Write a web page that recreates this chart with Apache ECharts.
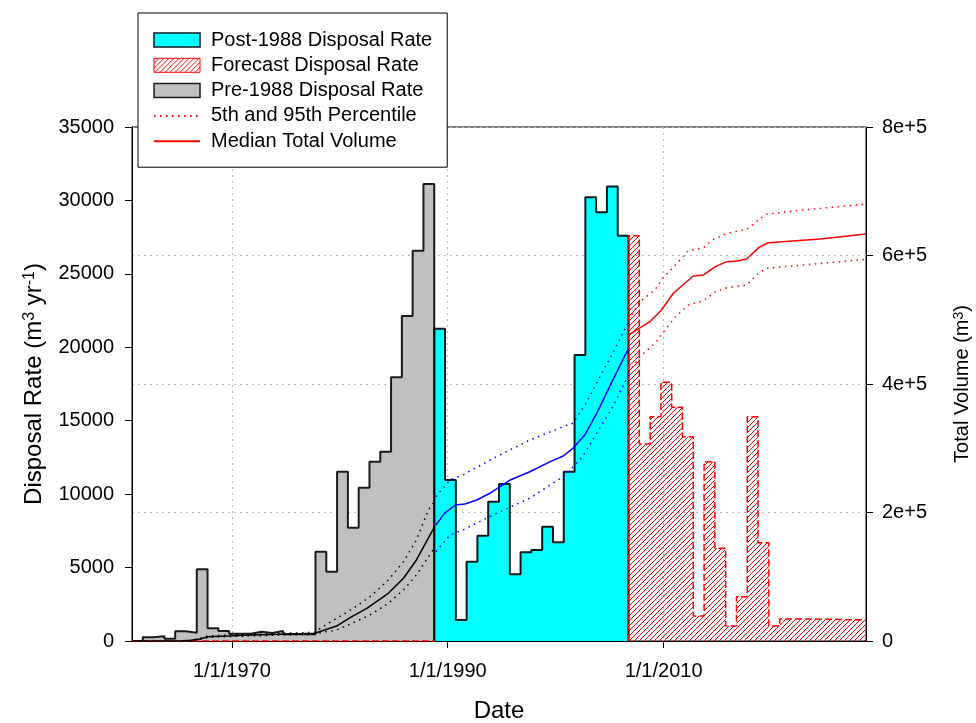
<!DOCTYPE html>
<html><head><meta charset="utf-8">
<script src="https://cdn.jsdelivr.net/npm/echarts@6/dist/echarts.min.js"></script>
<style>html,body{margin:0;padding:0;background:#fff}#c{width:976px;height:723px}</style>
</head><body><div id="c"></div>
<script>
const FONT = '"Liberation Sans", Arial, Helvetica, sans-serif';

// ---- disposal rates by fiscal year (FY starts Oct 1 of the listed year) ----
const preFY   = [1960,1961,1962,1963,1964,1965,1966,1967,1968,1969,1970,1971,1972,1973,1974,1975,1976,1977,1978,1979,1980,1981,1982,1983,1984,1985,1986,1987];
const preRate = [0,250,320,150,660,565,4880,865,680,500,500,635,545,680,455,455,455,6080,4720,11530,7715,10440,12210,12890,17955,22130,26575,31120];
const postFY   = [1988,1989,1990,1991,1992,1993,1994,1995,1996,1997,1998,1999,2000,2001,2002,2003,2004,2005];
const postRate = [21265,10960,1430,5400,7170,9485,10690,4540,6040,6200,7785,6720,11530,19475,30210,29190,30940,27600];
const fcFY   = [2006,2007,2008,2009,2010,2011,2012,2013,2014,2015,2016,2017,2018,2019,2020,2021,2022,2023,2024,2025,2026,2027];
const fcRate = [27600,13410,15275,17615,15910,13910,1700,12210,6310,1020,3020,15275,6695,1020,1500,1500,1500,1480,1480,1450,1450,1450];
const fcZero = [[1960.75,0],[1988.75,0]];

// ---- total volume curves [decimal year, m3] ----
const preMedian = [[1960.75,0],[1965.2,0],[1966.2,1000],[1967.0,3000],[1967.8,6700],[1970.0,8000],[1972.0,9400],[1974.5,10500],[1977.7,12000],[1979.7,23300],[1981.0,36900],[1982.5,50900],[1984.5,74200],[1985.9,97600],[1987.1,126100],[1988.75,177000]];
const preUpper  = [[1966.0,500],[1967.0,3500],[1967.8,8000],[1970.0,9500],[1974.0,11500],[1977.7,13500],[1978.2,19800],[1979.7,35300],[1981.25,50900],[1982.8,68900],[1984.5,94900],[1985.9,123400],[1987.1,157200],[1988.2,203900],[1988.65,214300]];
const preLower  = [[1966.5,300],[1967.8,5500],[1970.0,7000],[1974.0,9000],[1977.7,10500],[1978.2,13000],[1979.7,17100],[1981.25,28500],[1982.8,40500],[1984.5,58700],[1985.9,79400],[1987.1,102700],[1988.65,142000]];
const postMedian = [[1988.9,180500],[1989.7,198700],[1990.7,211700],[1991.6,213200],[1992.7,219500],[1993.9,229900],[1995.8,250600],[1997.6,263500],[1999.5,279100],[2000.7,287900],[2001.6,299900],[2002.7,320600],[2003.8,354400],[2005.0,395800],[2006.75,455600]];
const postUpper  = [[1988.9,224600],[1990.2,250600],[1991.4,258400],[1994.5,286800],[1997.6,312800],[2000.7,333500],[2001.6,338800],[2002.8,369900],[2004.1,411300],[2005.6,458000],[2006.75,497000]];
const postLower  = [[1988.9,139000],[1990.2,165000],[1991.4,172800],[1994.5,198700],[1997.6,222100],[2000.7,255700],[2002.5,286800],[2003.8,323300],[2005.3,364700],[2006.75,414000]];
const fcMedian = [[2006.75,476200],[2008.73,497000],[2009.8,515200],[2010.9,541200],[2012.75,568100],[2013.7,569700],[2014.8,582600],[2015.85,590400],[2016.8,591400],[2017.7,594600],[2018.8,612200],[2019.7,619900],[2024.5,625700],[2028.75,633500]];
const fcUpper  = [[2006.75,500000],[2007.8,528100],[2009.2,546300],[2009.9,564500],[2011.1,585200],[2012.3,607500],[2013.7,612200],[2014.5,624100],[2015.9,634500],[2017.7,640800],[2018.6,652600],[2019.5,664100],[2022.9,670800],[2028.75,680100]];
const fcLower  = [[2006.75,418000],[2007.8,442500],[2009.2,463300],[2009.9,478900],[2011.1,504700],[2012.3,522900],[2013.7,529600],[2014.8,543700],[2016.0,550500],[2017.7,554100],[2018.6,569700],[2019.5,580100],[2022.9,585200],[2028.75,594100]];

// ---- axes ----
const xMin = 1960.75, xMax = 2028.75;
const xTicks = [1970, 1990, 2010];
const rateMax = 35000, rateStep = 5000;
const volMax = 800000, volStep = 200000;

// FY start (Oct 1) as decimal year
const fyStart = y => y + 0.75;
function stepData(fy, vals, endX, dropToZero, startAtZero) {
  const d = [];
  if (startAtZero) d.push([fyStart(fy[0]), 0]);
  fy.forEach((y, i) => d.push([fyStart(y), vals[i]]));
  if (dropToZero) d.push([endX, 0]); else d.push([endX, vals[vals.length - 1]]);
  return d;
}

// hatch pattern
const hatch = document.createElement('canvas');
hatch.width = 5; hatch.height = 5;
(function(){
  const g = hatch.getContext('2d');
  g.strokeStyle = '#ff0000'; g.lineWidth = 1;
  g.beginPath();
  g.moveTo(-1, 6); g.lineTo(6, -1);
  g.moveTo(-1, 1); g.lineTo(1, -1);
  g.moveTo(4, 6); g.lineTo(6, 4);
  g.stroke();
})();
const hatchFill = { image: hatch, repeat: 'repeat' };

const dotted = [1.5, 4.5];
function volLine(name, data, color, dash) {
  return { name, type: 'line', yAxisIndex: 1, data, symbol: 'none', showSymbol: false,
    lineStyle: { color, width: 1.5, type: dash ? dotted : 'solid' }, itemStyle: { color }, z: 5, silent: true };
}
const noSymbol = { color: 'rgba(0,0,0,0)', borderWidth: 0, opacity: 0 };

const chart = echarts.init(document.getElementById('c'), null, { renderer: 'canvas' });
chart.setOption({
  animation: false,
  textStyle: { fontFamily: FONT, color: '#000' },
  grid: { left: 132, right: 110, top: 127, bottom: 82, containLabel: false, outerBoundsMode: 'none',
    show: true, borderColor: '#000', borderWidth: 1, backgroundColor: 'transparent' },
  legend: {
    left: 138, top: 13, orient: 'vertical',
    padding: [17, 15, 16, 15], itemGap: 5.3, itemWidth: 46, itemHeight: 14,
    backgroundColor: '#fff', borderColor: '#000', borderWidth: 1, borderRadius: 0,
    textStyle: { fontFamily: FONT, fontSize: 20, color: '#000', lineHeight: 20, padding: [0, 0, 0, 6] },
    selectedMode: false,
    data: [
      { name: 'Post-1988 Disposal Rate', icon: 'rect', itemStyle: { color: '#00ffff', borderColor: '#0a1a1a', borderWidth: 1.5 } },
      { name: 'Forecast Disposal Rate', icon: 'rect', itemStyle: { color: hatchFill, borderColor: '#ff0000', borderWidth: 1 } },
      { name: 'Pre-1988 Disposal Rate', icon: 'rect', itemStyle: { color: '#c0c0c0', borderColor: '#1a1a1a', borderWidth: 1.5 } },
      { name: '5th and 95th Percentile', itemStyle: noSymbol },
      { name: 'Median Total Volume', itemStyle: noSymbol }
    ]
  },
  xAxis: {
    type: 'value', min: xMin, max: xMax,
    name: 'Date', nameLocation: 'middle', nameGap: 58,
    nameTextStyle: { fontFamily: FONT, fontSize: 24, color: '#000' },
    axisLine: { show: true, lineStyle: { color: '#000', width: 1 } },
    axisTick: { show: true, inside: false, length: 7, customValues: xTicks, lineStyle: { color: '#000' } },
    axisLabel: { customValues: xTicks, fontFamily: FONT, fontSize: 20, color: '#000', margin: 20, formatter: v => '1/1/' + Math.round(v) },
    splitLine: { show: true, lineStyle: { color: '#b8b8b8', type: [2, 4], width: 1 } }
  },
  yAxis: [
    {
      type: 'value', min: 0, max: rateMax, interval: rateStep, position: 'left',
      name: 'Disposal Rate (m{sup|3} yr{sup|-1})', nameLocation: 'middle', nameGap: 86, nameRotate: 90,
      nameTextStyle: { fontFamily: FONT, fontSize: 24, color: '#000',
        rich: { sup: { fontFamily: FONT, fontSize: 16, color: '#000', verticalAlign: 'top', lineHeight: 14 } } },
      axisLine: { show: true, lineStyle: { color: '#000', width: 1 } },
      axisTick: { show: true, inside: false, length: 7, lineStyle: { color: '#000' } },
      axisLabel: { fontFamily: FONT, fontSize: 20, color: '#000', margin: 18, formatter: v => String(v) },
      splitLine: { show: false }
    },
    {
      type: 'value', min: 0, max: volMax, interval: volStep, position: 'right',
      name: 'Total Volume (m{sup|3})', nameLocation: 'middle', nameGap: 86, nameRotate: 90,
      nameTextStyle: { fontFamily: FONT, fontSize: 20, color: '#000',
        rich: { sup: { fontFamily: FONT, fontSize: 14, color: '#000', verticalAlign: 'top', lineHeight: 12 } } },
      axisLine: { show: true, lineStyle: { color: '#000', width: 1 } },
      axisTick: { show: true, inside: false, length: 7, lineStyle: { color: '#000' } },
      axisLabel: { fontFamily: FONT, fontSize: 20, color: '#000', margin: 16,
        formatter: v => v === 0 ? '0' : (v / 100000) + 'e+5' },
      splitLine: { show: true, lineStyle: { color: '#b8b8b8', type: [2, 4], width: 1 } }
    }
  ],
  series: [
    { name: 'Pre-1988 Disposal Rate', type: 'line', step: 'end', yAxisIndex: 0, symbol: 'none', silent: true, z: 2,
      data: stepData(preFY, preRate, fyStart(1988), true, false),
      lineStyle: { color: '#1a1a1a', width: 2 }, itemStyle: { color: '#c0c0c0' },
      areaStyle: { color: '#c0c0c0', opacity: 1 } },
    { name: 'Post-1988 Disposal Rate', type: 'line', step: 'end', yAxisIndex: 0, symbol: 'none', silent: true, z: 2,
      data: stepData(postFY, postRate, fyStart(2006), true, true),
      lineStyle: { color: '#0a1a1a', width: 2 }, itemStyle: { color: '#00ffff' },
      areaStyle: { color: '#00ffff', opacity: 1 } },
    { name: 'Forecast Disposal Rate', type: 'line', step: 'end', yAxisIndex: 0, symbol: 'none', silent: true, z: 2,
      data: stepData(fcFY, fcRate, xMax, false, true),
      lineStyle: { color: '#ff0000', width: 1.5, type: [7, 3] }, itemStyle: { color: '#ff0000' },
      areaStyle: { color: hatchFill, opacity: 1 } },
    { name: 'forecast-zero', type: 'line', yAxisIndex: 0, symbol: 'none', silent: true, z: 3,
      data: fcZero, lineStyle: { color: '#ff0000', width: 1.5, type: [7, 3] } },
    volLine('pre-median', preMedian, '#000000', false),
    volLine('pre-pct', preUpper, '#000000', true),
    volLine('pre-pct', preLower, '#000000', true),
    volLine('post-median', postMedian, '#0000ff', false),
    volLine('post-pct', postUpper, '#0000ff', true),
    volLine('post-pct', postLower, '#0000ff', true),
    volLine('Median Total Volume', fcMedian, '#ff0000', false),
    volLine('5th and 95th Percentile', fcUpper, '#ff0000', true),
    volLine('5th and 95th Percentile', fcLower, '#ff0000', true)
  ]
});
</script></body></html>
